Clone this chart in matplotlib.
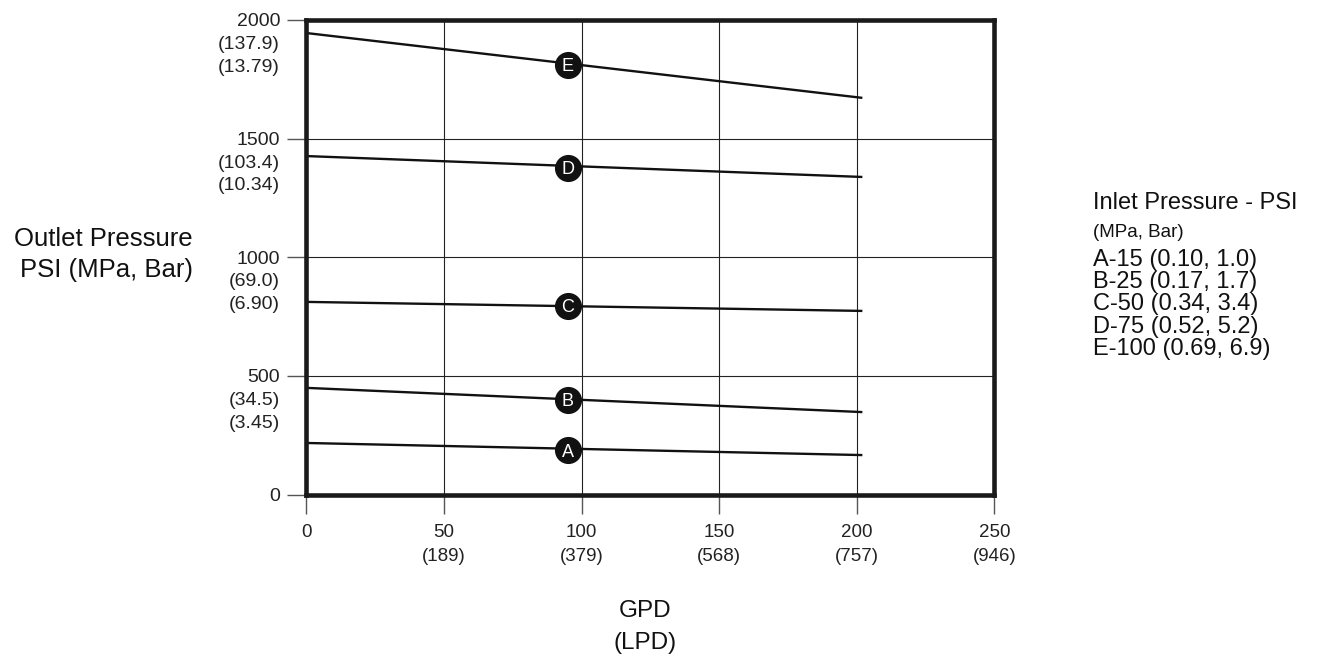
import matplotlib
matplotlib.use("Agg")
import matplotlib.pyplot as plt

plt.rcParams['font.family'] = ['Liberation Sans', 'DejaVu Sans']

# GPD positions where each curve starts and ends
gpd_ends = [0, 202]
marker_gpd = 95

# outlet pressure (PSI) at start / end of each curve
curve_names = ["A", "B", "C", "D", "E"]
curve_psi = {
    "A": [219, 168],
    "B": [451, 349],
    "C": [813, 775],
    "D": [1427, 1339],
    "E": [1945, 1672],
}
marker_psi = [189, 400, 796, 1377, 1811]

y_ticks = [0, 500, 1000, 1500, 2000]
y_labels = ["0", "500\n(34.5)\n(3.45)", "1000\n(69.0)\n(6.90)",
            "1500\n(103.4)\n(10.34)", "2000\n(137.9)\n(13.79)"]
x_ticks = [0, 50, 100, 150, 200, 250]
x_labels = ["0", "50\n(189)", "100\n(379)", "150\n(568)", "200\n(757)", "250\n(946)"]

legend_title = "Inlet Pressure - PSI"
legend_units = "(MPa, Bar)"
legend_lines = ["A-15 (0.10, 1.0)", "B-25 (0.17, 1.7)", "C-50 (0.34, 3.4)",
                "D-75 (0.52, 5.2)", "E-100 (0.69, 6.9)"]

fig = plt.figure(figsize=(13.17, 6.55), dpi=100)
ax = fig.add_axes([0.2327, 0.2443, 0.5224, 0.7252])

ax.set_xlim(0, 250)
ax.set_ylim(0, 2000)

# grid
for x in x_ticks[1:-1]:
    ax.axvline(x, color="#222222", lw=0.8, zorder=1)
for y in y_ticks[1:-1]:
    ax.axhline(y, color="#222222", lw=0.8, zorder=1)

# curves and letter markers
for name, my in zip(curve_names, marker_psi):
    ax.plot(gpd_ends, curve_psi[name], color="#111111", lw=1.7, zorder=2,
            solid_capstyle="butt")
    ax.plot(marker_gpd, my, "o", color="#111111", markersize=18.5, zorder=3)
    ax.text(marker_gpd, my, name, color="white", fontsize=13,
            ha="center", va="center_baseline", zorder=4)

for s in ax.spines.values():
    s.set_linewidth(3.3)
    s.set_color("#1a1a1a")

ax.set_xticks(x_ticks)
ax.set_xticklabels(x_labels, fontsize=13.5, linespacing=1.5, color="#222222")
ax.set_yticks(y_ticks)
ax.set_yticklabels([])
ax.tick_params(axis="both", length=14, width=1, color="#555555", direction="out")
ax.tick_params(axis="x", pad=7)

for v, lab in zip(y_ticks, y_labels):
    ax.annotate(lab, xy=(0, v), xycoords=("axes fraction", "data"),
                xytext=(-19, 5), textcoords="offset points",
                ha="right", va="top", fontsize=14, linespacing=1.45,
                color="#222222")

fig.text(0.1465, 0.6115, "Outlet Pressure\nPSI (MPa, Bar)", ha="right", va="center",
         multialignment="right", fontsize=18.5, linespacing=1.32, color="#111111")
fig.text(0.4897, 0.0427, "GPD\n(LPD)", ha="center", va="center",
         fontsize=17.5, linespacing=1.6, color="#111111")

fig.text(0.830, 0.690, legend_title, ha="left", va="center",
         fontsize=17, color="#111111")
fig.text(0.830, 0.645, legend_units, ha="left", va="center",
         fontsize=13.5, color="#111111")
for i, line in enumerate(legend_lines):
    fig.text(0.830, 0.603 - i * 0.0339, line, ha="left", va="center",
             fontsize=17, color="#111111")

fig.savefig("out.png", dpi=100)
